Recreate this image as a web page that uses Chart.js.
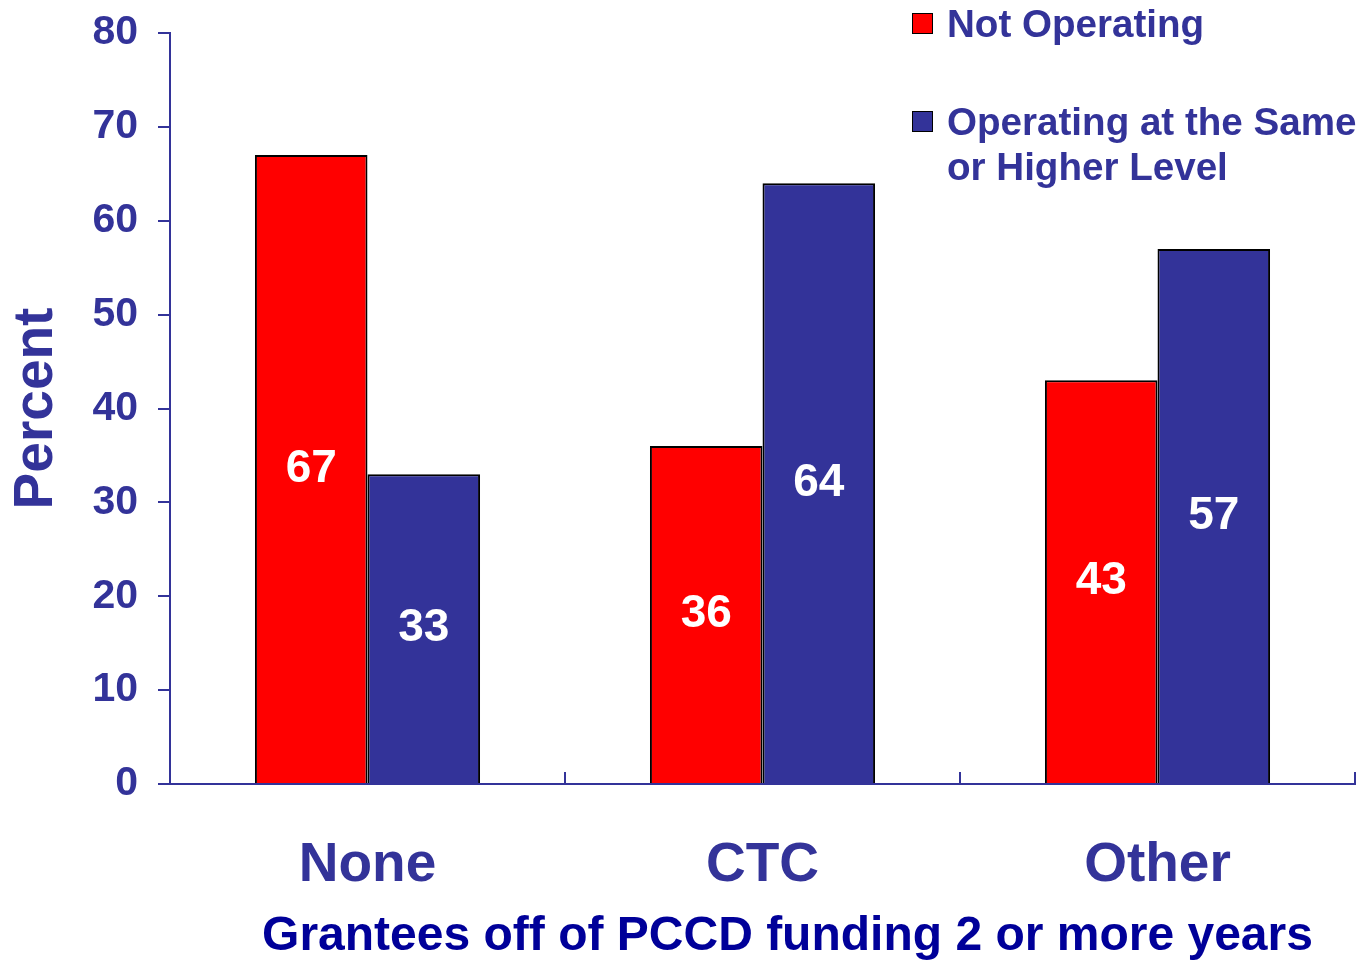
<!DOCTYPE html>
<html>
<head>
<meta charset="utf-8">
<script src="https://cdn.jsdelivr.net/npm/chart.js@4/dist/chart.umd.min.js"></script>
<style>
    html, body { margin: 0; padding: 0; background: #fff; }
    .wrap { position: relative; width: 1363px; height: 960px; }
    #legend {
        position: absolute; left: 912px; top: 1px;
        font-family: "Liberation Sans", Arial, sans-serif; font-weight: bold;
        font-size: 38.6px; line-height: 45px; color: #333399;
    }
    .legend-item { display: flex; align-items: flex-start; margin-bottom: 53px; }
    .legend-box { width: 19px; height: 19px; border: 1.5px solid #000; margin: 12px 14px 0 0; flex: none; }
    .legend-text { width: 420px; }
</style>
</head>
<body>
<div class="wrap">
    <canvas id="barChart" width="1363" height="960"></canvas>
    <div id="legend"></div>
</div>
<script>
/* Grantees off of PCCD funding - operating status by category */

const CATEGORIES = ['None', 'CTC', 'Other'];
const NOT_OPERATING = [67, 36, 43];
const OPERATING_SAME_OR_HIGHER = [33, 64, 57];
const SERIES_LABELS = ['Not Operating', 'Operating at the Same or Higher Level'];
const X_TITLE = 'Grantees off of PCCD funding 2 or more years';
const Y_TITLE = 'Percent';

const TEXT_BLUE = '#333399';
const FONT = '"Liberation Sans", Arial, sans-serif';

// white value labels centred in each bar
const barValues = {
    id: 'barValues',
    afterDatasetsDraw(chart) {
        const ctx = chart.ctx;
        ctx.save();
        ctx.fillStyle = '#fff';
        ctx.font = `bold 46px ${FONT}`;
        ctx.textAlign = 'center';
        ctx.textBaseline = 'middle';
        chart.data.datasets.forEach((ds, i) => {
            chart.getDatasetMeta(i).data.forEach((bar, j) => {
                ctx.fillText(String(ds.data[j]), bar.x, (bar.y + bar.base) / 2);
            });
        });
        ctx.restore();
    },
};

// x axis title sits a little right of the plot centre in the original
const xTitle = {
    id: 'xTitle',
    afterDraw(chart) {
        const { ctx, chartArea } = chart;
        ctx.save();
        ctx.fillStyle = '#000099';
        ctx.font = `bold 48px ${FONT}`;
        ctx.textAlign = 'center';
        ctx.textBaseline = 'middle';
        ctx.fillText(X_TITLE, (chartArea.left + chartArea.right) / 2 + 25, 937);
        ctx.restore();
    },
};

const chart = new Chart(document.getElementById('barChart'), {
    type: 'bar',
    data: {
        labels: CATEGORIES,
        datasets: [
            {
                label: SERIES_LABELS[0],
                data: NOT_OPERATING,
                backgroundColor: '#ff0000',
                borderColor: '#000',
                borderWidth: 2,
                categoryPercentage: 0.57,
                barPercentage: 1.0,
            },
            {
                label: SERIES_LABELS[1],
                data: OPERATING_SAME_OR_HIGHER,
                backgroundColor: '#333399',
                borderColor: '#000',
                borderWidth: 2,
                categoryPercentage: 0.57,
                barPercentage: 1.0,
            },
        ],
    },
    options: {
        responsive: false,
        animation: false,
        layout: { padding: { top: 33, right: 8, left: 0, bottom: 0 } },
        plugins: {
            legend: { display: false },
            tooltip: { enabled: false },
        },
        scales: {
            x: {
                grid: {
                    offset: true,
                    drawOnChartArea: false,
                    color: TEXT_BLUE,
                    lineWidth: 2,
                    tickLength: -12,
                },
                border: { color: TEXT_BLUE, width: 2 },
                ticks: {
                    color: TEXT_BLUE,
                    font: { family: FONT, size: 55, weight: 'bold' },
                    padding: 61,
                    maxRotation: 0,
                },
                afterFit(scale) { scale.height = 176; },
            },
            y: {
                min: 0,
                max: 80,
                ticks: {
                    stepSize: 10,
                    color: TEXT_BLUE,
                    font: { family: FONT, size: 41, weight: 'bold' },
                    padding: 20,
                },
                grid: {
                    drawOnChartArea: false,
                    color: TEXT_BLUE,
                    lineWidth: 2,
                    tickLength: 12,
                },
                border: { color: TEXT_BLUE, width: 2 },
                title: {
                    display: true,
                    text: Y_TITLE,
                    color: TEXT_BLUE,
                    font: { family: FONT, size: 55, weight: 'bold' },
                    padding: { top: 4, bottom: 0 },
                },
                afterFit(scale) {
                    scale.width = 170;
                    scale.paddingTop = 0; // let layout padding set the plot top
                },
            },
        },
    },
    plugins: [barValues, xTitle],
});

// HTML legend built from the datasets
const legend = document.getElementById('legend');
chart.data.datasets.forEach(ds => {
    const item = document.createElement('div');
    item.className = 'legend-item';
    const box = document.createElement('span');
    box.className = 'legend-box';
    box.style.background = ds.backgroundColor;
    const text = document.createElement('span');
    text.className = 'legend-text';
    text.textContent = ds.label;
    item.appendChild(box);
    item.appendChild(text);
    legend.appendChild(item);
});
</script>
</body>
</html>
